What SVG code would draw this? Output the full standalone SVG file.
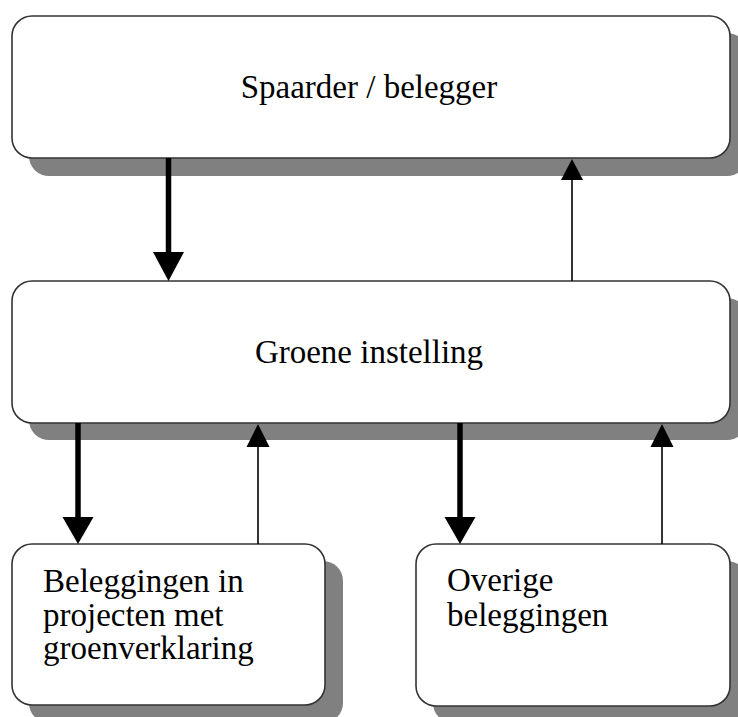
<svg xmlns="http://www.w3.org/2000/svg" width="738" height="717" viewBox="0 0 738 717">
<style>
.shadow{fill:#808080;stroke:none}
.box{fill:#ffffff;stroke:#333333;stroke-width:1.6}
.t{font-family:"Liberation Serif","DejaVu Serif",serif;font-size:33px;fill:#000000}
.thick{stroke:#000000;stroke-width:5.5;fill:none}
.thin{stroke:#000000;stroke-width:1.6;fill:none}
.head{fill:#000000;stroke:none}
</style>
<rect width="738" height="717" fill="#ffffff"/>
<g id="node-spaarder">
<rect class="shadow" x="29" y="33" width="718" height="143" rx="20" ry="20"/>
<rect class="box" x="12" y="16" width="718" height="142" rx="20" ry="20"/>
<text class="t" x="369" y="98" text-anchor="middle">Spaarder / belegger</text>
</g>
<g id="node-groene">
<rect class="shadow" x="29" y="298" width="718" height="142" rx="20" ry="20"/>
<rect class="box" x="12" y="281" width="718" height="142" rx="20" ry="20"/>
<text class="t" x="369" y="363" text-anchor="middle">Groene instelling</text>
</g>
<g id="node-groenverklaring">
<rect class="shadow" x="29" y="561" width="314" height="162" rx="20" ry="20"/>
<rect class="box" x="12" y="544" width="313" height="161" rx="20" ry="20"/>
<text class="t" x="43" y="592">Beleggingen in</text>
<text class="t" x="43" y="626">projecten met</text>
<text class="t" x="43" y="659">groenverklaring</text>
</g>
<g id="node-overige">
<rect class="shadow" x="433" y="561" width="314" height="162" rx="20" ry="20"/>
<rect class="box" x="416" y="544" width="314" height="162" rx="20" ry="20"/>
<text class="t" x="447" y="591">Overige</text>
<text class="t" x="447" y="626">beleggingen</text>
</g>
<g id="connectors">
<line class="thick" x1="168.5" y1="158" x2="168.5" y2="254"/>
<polygon class="head" points="153,252 184,252 168.5,281"/>
<line class="thin" x1="572" y1="281" x2="572" y2="178"/>
<polygon class="head" points="561,180 583,180 572,159"/>
<line class="thick" x1="78" y1="423" x2="78" y2="519"/>
<polygon class="head" points="62.5,517 93.5,517 78,544"/>
<line class="thin" x1="258" y1="544" x2="258" y2="445"/>
<polygon class="head" points="246.5,447 269.5,447 258,424"/>
<line class="thick" x1="460" y1="423" x2="460" y2="519"/>
<polygon class="head" points="444.5,517 475.5,517 460,544"/>
<line class="thin" x1="662" y1="544" x2="662" y2="445"/>
<polygon class="head" points="650.5,447 673.5,447 662,424"/>
</g>
</svg>
